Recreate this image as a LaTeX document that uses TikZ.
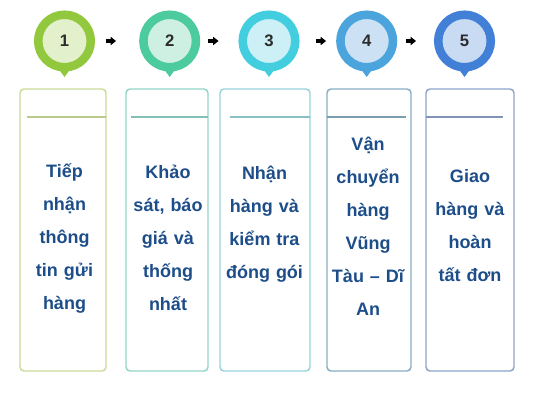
\documentclass[tikz,border=0pt]{standalone}
\usepackage{fontspec}
\setmainfont{Liberation Sans}
\usepackage{xcolor}
\usetikzlibrary{arrows.meta}

\definecolor{ringA}{HTML}{92C83E}
\definecolor{coreA}{HTML}{E2F0CB}
\definecolor{ringB}{HTML}{4CCB9E}
\definecolor{coreB}{HTML}{CDF0E2}
\definecolor{ringC}{HTML}{42CEDF}
\definecolor{coreC}{HTML}{CCF0F5}
\definecolor{ringD}{HTML}{4BA5DC}
\definecolor{coreD}{HTML}{CCE2F4}
\definecolor{ringE}{HTML}{4180D6}
\definecolor{coreE}{HTML}{C9DAF3}
\definecolor{frameA}{HTML}{CADC98}
\definecolor{frameB}{HTML}{92D6CA}
\definecolor{frameC}{HTML}{98D5DB}
\definecolor{frameD}{HTML}{88AEC3}
\definecolor{frameE}{HTML}{90A4CA}
\definecolor{textblue}{HTML}{1D4E89}
\definecolor{numgray}{HTML}{2B2B2B}

\begin{document}
\begin{tikzpicture}[x=0.75pt,y=0.75pt,yscale=-1,xscale=1,
  pin/.style={circle,inner sep=0pt,minimum size=39.4pt,line width=6.4pt,
    font=\bfseries\fontsize{12.5}{14}\selectfont,text=numgray},
  stepbox/.style={rounded corners=3pt,line width=1.1pt},
  steprule/.style={line width=1.1pt},
  steptext/.style={align=center,text width=62pt,inner sep=0pt,
    font=\bfseries\fontsize{13.5}{24.75}\selectfont,text=textblue},
  flow/.style={line width=2.4pt,-{Triangle[length=4pt,width=6pt]}}]
  \path[use as bounding box,fill=white] (0,0) rectangle (533,400);

  %Shape: Pin 1
  \fill[ringA] (56.5,66) -- (64.5,77) -- (72.5,66) -- cycle ;
  \node[pin,draw=ringA,fill=coreA] (p1) at (64.5,41) {1};
  %Shape: Pin 2
  \fill[ringB] (161.7,66) -- (169.7,77) -- (177.7,66) -- cycle ;
  \node[pin,draw=ringB,fill=coreB] (p2) at (169.7,41) {2};
  %Shape: Pin 3
  \fill[ringC] (261,66) -- (269,77) -- (277,66) -- cycle ;
  \node[pin,draw=ringC,fill=coreC] (p3) at (269,41) {3};
  %Shape: Pin 4
  \fill[ringD] (358.7,66) -- (366.7,77) -- (374.7,66) -- cycle ;
  \node[pin,draw=ringD,fill=coreD] (p4) at (366.7,41) {4};
  %Shape: Pin 5
  \fill[ringE] (456.5,66) -- (464.5,77) -- (472.5,66) -- cycle ;
  \node[pin,draw=ringE,fill=coreE] (p5) at (464.5,41) {5};

  %Arrows between pins
  \coordinate (a12) at (111,41);
  \coordinate (a23) at (213.5,41);
  \coordinate (a34) at (321,41);
  \coordinate (a45) at (411,41);
  \draw[flow] ([xshift=-3.8pt]a12) -- ([xshift=3.8pt]a12) ;
  \draw[flow] ([xshift=-3.8pt]a23) -- ([xshift=3.8pt]a23) ;
  \draw[flow] ([xshift=-3.8pt]a34) -- ([xshift=3.8pt]a34) ;
  \draw[flow] ([xshift=-3.8pt]a45) -- ([xshift=3.8pt]a45) ;

  %Shape: Rectangle 1
  \draw[stepbox,frameA] (20,89) rectangle (106,371) ;
  \draw[steprule,frameA!92!black] (27,117) -- (106,117) ;
  %Shape: Rectangle 2
  \draw[stepbox,frameB] (126,89) rectangle (208,371) ;
  \draw[steprule,frameB!90!black] (131,117) -- (208,117) ;
  %Shape: Rectangle 3
  \draw[stepbox,frameC] (220,89) rectangle (310,371) ;
  \draw[steprule,frameC!90!black] (230,117) -- (310,117) ;
  %Shape: Rectangle 4
  \draw[stepbox,frameD] (327,89) rectangle (411,371) ;
  \draw[steprule,frameD!90!black] (327,117) -- (406,117) ;
  %Shape: Rectangle 5
  \draw[stepbox,frameE] (426,89) rectangle (514,371) ;
  \draw[steprule,frameE!90!black] (426,117) -- (503,117) ;

  % Text Node
  \node[steptext] (t1) at (64.5,238) {Tiếp\\nhận\\thông\\tin gửi\\hàng};
  % Text Node
  \node[steptext] (t2) at (168,238) {Khảo\\sát, báo\\giá và\\thống\\nhất};
  % Text Node
  \node[steptext] (t3) at (264.5,224) {Nhận\\hàng và\\kiểm tra\\đóng gói};
  % Text Node
  \node[steptext] (t4) at (368,226) {Vận\\chuyển\\hàng\\Vũng\\Tàu – Dĩ\\An};
  % Text Node
  \node[steptext] (t5) at (470,226) {Giao\\hàng và\\hoàn\\tất đơn};
\end{tikzpicture}
\end{document}
